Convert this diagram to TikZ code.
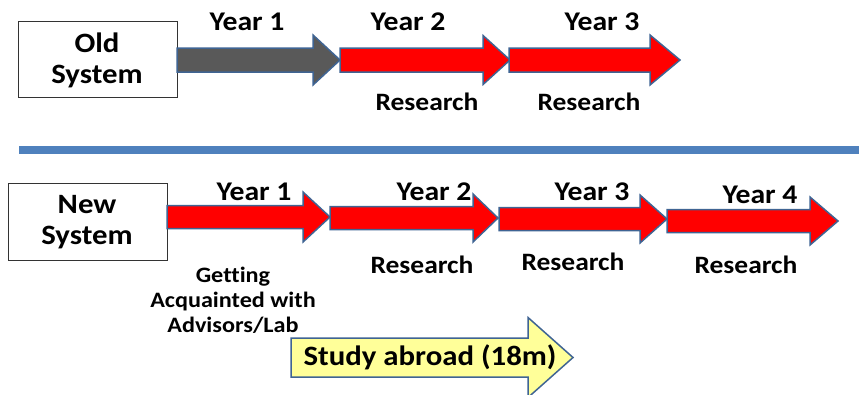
\documentclass[tikz,border=0pt]{standalone}
\usepackage{fontspec}
\setmainfont{Carlito}[FakeStretch=1.1,Ligatures=NoCommon]
\begin{document}
\begin{tikzpicture}[x=1pt,y=-1pt,
  edgeblue/.style={draw=arrowline,line width=1.5pt,line join=miter},
  sysbox/.style={draw=black!80,line width=0.9pt,fill=white},
  yearlbl/.style={font=\bfseries\fontsize{27}{30}\selectfont,inner sep=0pt},
  actlbl/.style={font=\bfseries\fontsize{25}{25}\selectfont,inner sep=0pt,align=center},
  syslbl/.style={font=\bfseries\fontsize{28}{31}\selectfont,inner sep=0pt,align=center}]
\definecolor{arrowline}{HTML}{3F6493}
\definecolor{redfill}{HTML}{FF0000}
\definecolor{grayfill}{HTML}{595959}
\definecolor{yellowfill}{HTML}{FFFF99}
\definecolor{divider}{HTML}{4F81BD}
% block arrow: #1 fill, #2 tail x, #3 tip x, #4 centre y, #5 half shaft, #6 half head, #7 head length
\newcommand{\blockarrow}[7]{%
  \draw[edgeblue,fill=#1] (#2,#4-#5) -- (#3-#7,#4-#5) -- (#3-#7,#4-#6) -- (#3,#4)
    -- (#3-#7,#4+#6) -- (#3-#7,#4+#5) -- (#2,#4+#5) -- cycle;}
\useasboundingbox (0,0) rectangle (859,394);

% ---- old system ----
\node[sysbox,minimum width=159pt,minimum height=76pt,anchor=north west] (oldbox) at (18,21) {};
\node[syslbl] (oldtxt) at (97,60) {Old\\System};
\blockarrow{grayfill}{177}{340}{60}{12}{25}{27}
\blockarrow{redfill}{340}{510}{60}{12}{24.5}{27}
\blockarrow{redfill}{509}{680}{60}{12}{25}{30}
\node[yearlbl] (oy1) at (247,22) {Year 1};
\node[yearlbl] (oy2) at (408,22) {Year 2};
\node[yearlbl] (oy3) at (602,22) {Year 3};
\node[actlbl] (or2) at (427,102) {Research};
\node[actlbl] (or3) at (589,102) {Research};

% ---- divider ----
\coordinate (divl) at (19,150);
\coordinate (divr) at (859,150);
\draw[divider,line width=8pt] (divl) -- (divr);

% ---- new system ----
\node[sysbox,minimum width=159pt,minimum height=77pt,anchor=north west] (newbox) at (8,183) {};
\node[syslbl] (newtxt) at (87,222) {New\\System};
\blockarrow{redfill}{167}{330}{217}{11.5}{25}{27}
\blockarrow{redfill}{330}{498}{218}{11.5}{24}{25}
\blockarrow{redfill}{499}{667}{219}{11.5}{24}{27}
\blockarrow{redfill}{667}{838}{221}{11.5}{24}{28}
\node[yearlbl] (ny1) at (254,192) {Year 1};
\node[yearlbl] (ny2) at (434,192) {Year 2};
\node[yearlbl] (ny3) at (592,192) {Year 3};
\node[yearlbl] (ny4) at (760,195) {Year 4};
\node[actlbl,font=\bfseries\fontsize{22}{25}\selectfont] (nr1) at (233,300) {Getting\\Acquainted with\\Advisors/Lab};
\node[actlbl] (nr2) at (422,265) {Research};
\node[actlbl] (nr3) at (573,262) {Research};
\node[actlbl] (nr4) at (746,265) {Research};

% ---- study abroad ----
\blockarrow{yellowfill}{291}{573}{357.5}{19.5}{40}{45}
\node[yearlbl,font=\bfseries\fontsize{28}{30}\selectfont] (abroad) at (430,357) {Study abroad (18m)};
\end{tikzpicture}
\end{document}
